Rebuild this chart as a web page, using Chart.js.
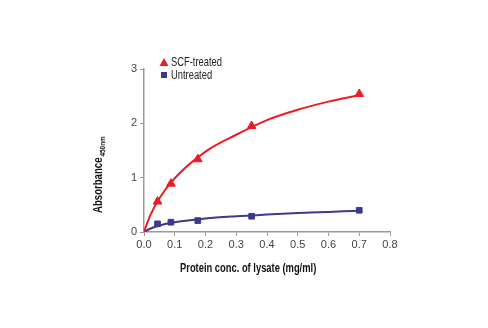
<!DOCTYPE html>
<html>
<head>
<meta charset="utf-8">
<script src="https://cdn.jsdelivr.net/npm/chart.js@4"></script>
<style>
  html, body { margin: 0; padding: 0; background: #fff; }
  #wrap { width: 488px; height: 328px; }
</style>
</head>
<body>
<div id="wrap"><canvas id="absChart" width="488" height="328"></canvas></div>
<script>
// measured points (protein conc. mg/ml -> absorbance)
const concPoints = [0.044, 0.0875, 0.175, 0.35, 0.7];
const scfValues = [0.56, 0.89, 1.34, 1.95, 2.54];
const untreatedValues = [0.15, 0.18, 0.21, 0.29, 0.40];

// fitted curves
const fitX = [0, 0.02, 0.05, 0.1, 0.2, 0.3, 0.4, 0.5, 0.6, 0.7];
const scfFit = [0, 0.30, 0.62, 0.99, 1.48, 1.79, 2.06, 2.25, 2.40, 2.52];
const untreatedFit = [0, 0.06, 0.12, 0.18, 0.25, 0.29, 0.32, 0.35, 0.37, 0.39];

const xTicks = [0, 0.1, 0.2, 0.3, 0.4, 0.5, 0.6, 0.7, 0.8];
const yTicks = [0, 1, 2, 3];

const RED = '#ec1c24';
const NAVY = '#3b3a8f';
const AXIS = '#9a9a9a';
const FONT = "'Liberation Sans', Arial, sans-serif";

const toXY = (xs, ys) => xs.map((x, i) => ({ x: x, y: ys[i] }));

// narrow text: squeeze horizontally, like a condensed face
function narrowText(ctx, text, x, y, sx) {
    ctx.save();
    ctx.translate(x, y);
    ctx.scale(sx, 1);
    ctx.fillText(text, 0, 0);
    const w = ctx.measureText(text).width * sx;
    ctx.restore();
    return w;
}

// axis titles + legend, drawn on the canvas
const extrasPlugin = {
    id: 'extras',
    afterDraw(chart) {
        const ctx = chart.ctx;
        ctx.save();
        ctx.fillStyle = '#111';
        ctx.textBaseline = 'alphabetic';
        ctx.textAlign = 'left';

        // x axis title
        ctx.font = "bold 12px " + FONT;
        narrowText(ctx, 'Protein conc. of lysate (mg/ml)', 180, 272, 0.78);

        // y axis title
        ctx.save();
        ctx.translate(102, 213);
        ctx.rotate(-Math.PI / 2);
        ctx.font = "bold 12px " + FONT;
        const w = narrowText(ctx, 'Absorbance', 0, 0, 0.8);
        ctx.font = "bold 8px " + FONT;
        narrowText(ctx, '450nm', w + 1, 3, 0.8);
        ctx.restore();

        // legend
        ctx.fillStyle = RED;
        ctx.beginPath();
        ctx.moveTo(164, 58);
        ctx.lineTo(168.5, 66);
        ctx.lineTo(159.5, 66);
        ctx.closePath();
        ctx.fill();
        ctx.fillStyle = NAVY;
        ctx.fillRect(161, 72, 6, 6);
        ctx.fillStyle = '#222';
        ctx.font = "12px " + FONT;
        narrowText(ctx, 'SCF-treated', 171, 66, 0.78);
        narrowText(ctx, 'Untreated', 171, 79, 0.78);
        ctx.restore();
    }
};

new Chart(document.getElementById('absChart'), {
    type: 'line',
    data: {
        datasets: [
            { data: toXY(fitX, scfFit), borderColor: RED, borderWidth: 2, pointRadius: 0, cubicInterpolationMode: 'monotone', order: 3 },
            { data: toXY(fitX, untreatedFit), borderColor: NAVY, borderWidth: 2, pointRadius: 0, cubicInterpolationMode: 'monotone', order: 4 },
            { label: 'SCF-treated', data: toXY(concPoints, scfValues), showLine: false, pointStyle: 'triangle', pointRadius: 5, backgroundColor: RED, borderColor: RED, order: 1 },
            { label: 'Untreated', data: toXY(concPoints, untreatedValues), showLine: false, pointStyle: 'rect', pointRadius: 4, backgroundColor: NAVY, borderColor: NAVY, order: 2 }
        ]
    },
    options: {
        responsive: false,
        animation: false,
        layout: { padding: { left: 0, right: 98, top: 69, bottom: 0 } },
        plugins: { legend: { display: false }, tooltip: { enabled: false } },
        scales: {
            x: {
                type: 'linear', min: 0, max: 0.8,
                afterBuildTicks: axis => { axis.ticks = xTicks.map(v => ({ value: v })); },
                afterFit: axis => { axis.height = 96; },
                ticks: { color: '#444', font: { family: FONT, size: 11 }, padding: 2, callback: v => v.toFixed(1) },
                grid: { drawOnChartArea: false, color: AXIS, tickLength: 4 },
                border: { color: AXIS, width: 1.5 }
            },
            y: {
                type: 'linear', min: 0, max: 3,
                afterBuildTicks: axis => { axis.ticks = yTicks.map(v => ({ value: v })); },
                afterFit: axis => { axis.width = 144; },
                ticks: { color: '#444', font: { family: FONT, size: 11 }, padding: 3 },
                grid: { drawOnChartArea: false, color: AXIS, tickLength: 4 },
                border: { color: AXIS, width: 1.5 }
            }
        }
    },
    plugins: [extrasPlugin]
});
</script>
</body>
</html>
